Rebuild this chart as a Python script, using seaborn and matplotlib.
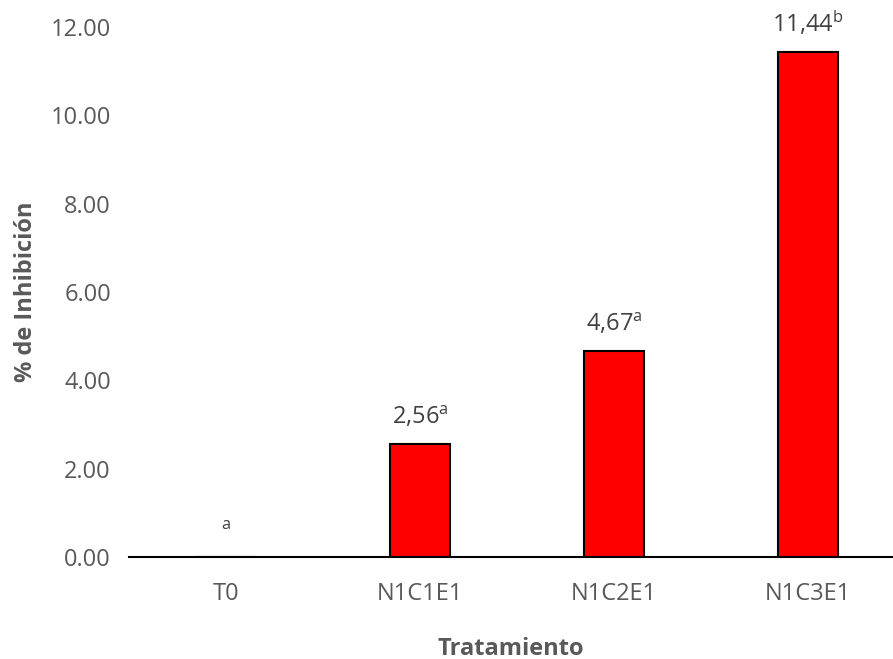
import matplotlib
matplotlib.use("Agg")
import matplotlib.pyplot as plt
import seaborn as sns
import pandas as pd
from matplotlib.ticker import FormatStrFormatter

categories = ["T0", "N1C1E1", "N1C2E1", "N1C3E1"]
values = [0.0, 2.56, 4.67, 11.44]
letters = ["a", "a", "a", "b"]
yticks = [0, 2, 4, 6, 8, 10, 12]

sns.set_theme(style="white")
plt.rcParams["font.family"] = ["Open Sans", "DejaVu Sans"]
plt.rcParams["mathtext.fontset"] = "custom"
plt.rcParams["mathtext.rm"] = "Open Sans"
plt.rcParams["mathtext.it"] = "Open Sans:italic"
plt.rcParams["mathtext.bf"] = "Open Sans:bold"

gray = "#595959"
df = pd.DataFrame({"Tratamiento": categories, "Inhibicion": values})

fig = plt.figure(figsize=(8.93, 6.59), dpi=100)
ax = fig.add_axes([129 / 893, 1 - 557 / 659, 1 - 129 / 893, (557 - 27) / 659])

sns.barplot(data=df, x="Tratamiento", y="Inhibicion", color="#FF0000",
            edgecolor="black", linewidth=1.5, width=0.314, saturation=1,
            ax=ax)

ax.set_xlim(-0.5, -0.5 + (893 - 129) / 194)
ax.set_ylim(0, 12)
ax.set_yticks(yticks)
ax.yaxis.set_major_formatter(FormatStrFormatter("%.2f"))

for s in ["top", "right", "left"]:
    ax.spines[s].set_visible(False)
ax.spines["bottom"].set_color("black")
ax.spines["bottom"].set_linewidth(1.5)
ax.spines["bottom"].set_zorder(5)

ax.tick_params(axis="y", length=0, pad=13, labelsize=17, labelcolor=gray)
ax.tick_params(axis="x", length=0, pad=18, labelsize=17, labelcolor=gray)

ax.set_xlabel("Tratamiento", fontsize=17, fontweight="bold", color=gray, labelpad=22)
ax.set_ylabel("% de Inhibición", fontsize=17, fontweight="bold", color=gray, labelpad=9)

for i, (v, l) in enumerate(zip(values, letters)):
    if v > 0:
        txt = f"{v:.2f}".replace(".", ",") + r"$^{\mathrm{" + l + "}}$"
    else:
        txt = r"$^{\mathrm{" + l + "}}$"
    ax.annotate(txt, xy=(i, v), xytext=(0, 10), textcoords="offset points",
                ha="center", va="bottom", fontsize=17, color="#404040",
                annotation_clip=False)

fig.savefig("out.png", dpi=100)
